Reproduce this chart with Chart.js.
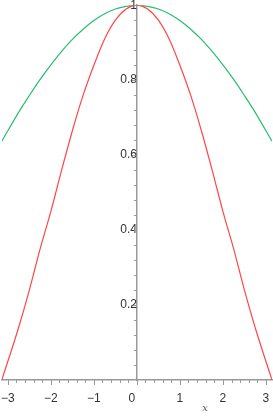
<!DOCTYPE html>
<html>
<head>
<meta charset="utf-8">
<script src="https://cdn.jsdelivr.net/npm/chart.js@4.4.0/dist/chart.umd.min.js"></script>
<style>
  html, body { margin: 0; padding: 0; background: #fff; }
  #wrap { width: 273px; height: 418px; position: relative; }
</style>
</head>
<body>
<div id="wrap"><canvas id="plot"></canvas></div>
<script>
var xs = [-3.1416, -2.75, -2.5, -2.25, -2, -1.75, -1.5, -1.25, -1, -0.75, -0.5, -0.25, 0,
          0.25, 0.5, 0.75, 1, 1.25, 1.5, 1.75, 2, 2.25, 2.5, 2.75, 3.1416];
// red curve (narrow one)
var redY = [0.00, 0.14, 0.24, 0.35, 0.45, 0.56, 0.665, 0.76, 0.84, 0.91, 0.96, 0.99, 1.00,
            0.99, 0.96, 0.91, 0.84, 0.76, 0.665, 0.56, 0.45, 0.35, 0.24, 0.14, 0.00];
// green curve (wide one)
var greenY = [0.637, 0.714, 0.759, 0.802, 0.841, 0.877, 0.909, 0.936, 0.959, 0.977, 0.99, 0.997, 1.00,
              0.997, 0.99, 0.977, 0.959, 0.936, 0.909, 0.877, 0.841, 0.802, 0.759, 0.714, 0.637];
var xTicks = [-3, -2, -1, 0, 1, 2, 3];
var yTicks = [0.2, 0.4, 0.6, 0.8, 1];

function pts(ys) {
    var out = [];
    for (var i = 0; i < xs.length; i++) out.push({x: xs[i], y: ys[i]});
    return out;
}

// tick marks on the x axis (major + minor), minor ticks on y, and the "x" label
var minorTicks = {
    id: 'minorTicks',
    afterDraw: function (chart) {
        var ctx = chart.ctx, sx = chart.scales.x, sy = chart.scales.y;
        var x0 = sx.getPixelForValue(0), y0 = sy.getPixelForValue(0);
        ctx.save();
        ctx.strokeStyle = '#999';
        ctx.lineWidth = 1;
        ctx.beginPath();
        for (var v = -3.0; v <= 3.01; v += 0.2) {
            var px = Math.round(sx.getPixelForValue(v)) + 0.5;
            var major = Math.abs(v - Math.round(v)) < 0.01;
            ctx.moveTo(px, y0);
            ctx.lineTo(px, y0 + (major ? 5 : 3));
        }
        for (var w = 0.04; w <= 1.001; w += 0.04) {
            var py = Math.round(sy.getPixelForValue(w)) + 0.5;
            ctx.moveTo(x0 - 3, py);
            ctx.lineTo(x0, py);
        }
        ctx.stroke();
        ctx.fillStyle = '#555';
        ctx.font = 'italic 10px "DejaVu Serif"';
        ctx.textAlign = 'center';
        ctx.fillText('x', 205, 411);
        ctx.restore();
    }
};

var config = {
    type: 'line',
    data: {
        datasets: [{
            label: 'red',
            data: pts(redY),
            borderColor: 'rgb(255,70,70)',
            borderWidth: 1.2,
            pointRadius: 0,
            cubicInterpolationMode: 'monotone',
            fill: false
        }, {
            label: 'green',
            data: pts(greenY),
            borderColor: 'rgb(40,190,110)',
            borderWidth: 1.2,
            pointRadius: 0,
            cubicInterpolationMode: 'monotone',
            fill: false
        }]
    },
    options: {
        responsive: true,
        maintainAspectRatio: false,
        animation: false,
        layout: { padding: { left: 1, right: 1, top: 5, bottom: 0 } },
        plugins: { legend: { display: false }, tooltip: { enabled: false } },
        scales: {
            x: {
                type: 'linear',
                position: 'bottom',
                min: -3.1416,
                max: 3.1416,
                afterBuildTicks: function (s) { s.ticks = xTicks.map(function (v) { return {value: v}; }); },
                afterFit: function (s) { s.height = 38; },
                ticks: {
                    color: '#333',
                    font: { family: 'Liberation Sans', size: 12 },
                    padding: 1,
                    maxRotation: 0,
                    autoSkip: false,
                    callback: function (v) {
                        if (v === 0) return '0   ';
                        return v < 0 ? '\u2212' + Math.abs(v) : String(v);
                    }
                },
                grid: { drawOnChartArea: false, tickLength: 10, tickColor: 'rgba(0,0,0,0)' },
                border: { color: '#999', width: 1.5 }
            },
            y: {
                type: 'linear',
                position: { x: 0 },
                min: 0,
                max: 1,
                afterBuildTicks: function (s) { s.ticks = yTicks.map(function (v) { return {value: v}; }); },
                ticks: {
                    color: '#333',
                    font: { family: 'Liberation Sans', size: 12 },
                    padding: -2,
                    autoSkip: false,
                    callback: function (v) { return String(Math.round(v * 10) / 10); }
                },
                grid: { drawOnChartArea: false, tickLength: 5, tickColor: '#999' },
                border: { color: '#999', width: 1.5 }
            }
        }
    },
    plugins: [minorTicks]
};

var myPlot = new Chart(document.getElementById('plot'), config);
</script>
</body>
</html>
